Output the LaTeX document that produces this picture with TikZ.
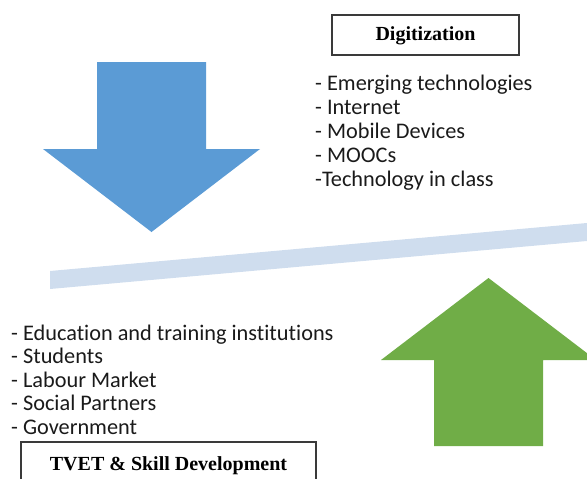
\documentclass[tikz,border=0pt]{standalone}
\usepackage{fontspec}
\newfontfamily\listfont[Ligatures=NoCommon]{Carlito}
\newfontfamily\headfont{Liberation Serif}
\definecolor{arrowblue}{HTML}{5B9BD5}
\definecolor{arrowgreen}{HTML}{70AD47}
\definecolor{beamblue}{HTML}{CFDDEE}
\definecolor{boxgray}{HTML}{3A3A3A}
\definecolor{listtext}{HTML}{1A1A1A}
\tikzset{
  header/.style={draw=boxgray, line width=1.3pt, fill=white,
    font=\headfont\bfseries\fontsize{20}{24}\selectfont,
    text height=14pt, text depth=4pt, inner xsep=0pt, inner ysep=0pt},
  listline/.style={anchor=base west, inner sep=0pt, text=listtext,
    font=\listfont\fontsize{22.3}{24}\selectfont},
}
\begin{document}
\begin{tikzpicture}[x=1pt, y=-1pt]
  \useasboundingbox (0,0) rectangle (587,479);
  \clip (0,0) rectangle (587,479);

  % tilted balance beam
  \fill[beamblue] (50,271) -- (587,223) -- (587,241) -- (50,289) -- cycle;

  % downward push of digitization
  \fill[arrowblue] (97,62) -- (206,62) -- (206,149) -- (260,149)
    -- (151.5,232) -- (43,149) -- (97,149) -- cycle;

  % upward push of TVET
  \fill[arrowgreen] (434,446) -- (434,360) -- (381,360) -- (488.5,278)
    -- (596,360) -- (543,360) -- (543,446) -- cycle;

  % headers
  \node[header, minimum width=187pt, minimum height=40pt] (digi) at (425.5,35) {Digitization};
  \node[header, minimum width=295pt, minimum height=46pt] (tvet) at (168.5,465) {TVET \& Skill Development};

  % digitization drivers
  \foreach \t [count=\i] in {- Emerging technologies, - Internet, - Mobile Devices, - MOOCs, -Technology in class}
    \node[listline] (d\i) at (315, 90+24*\i-24) {\t};

  % TVET stakeholders
  \foreach \t [count=\i] in {- Education and training institutions, - Students, - Labour Market, - Social Partners, - Government}
    \node[listline] (s\i) at (11, 340+23.5*\i-23.5) {\t};
\end{tikzpicture}
\end{document}
